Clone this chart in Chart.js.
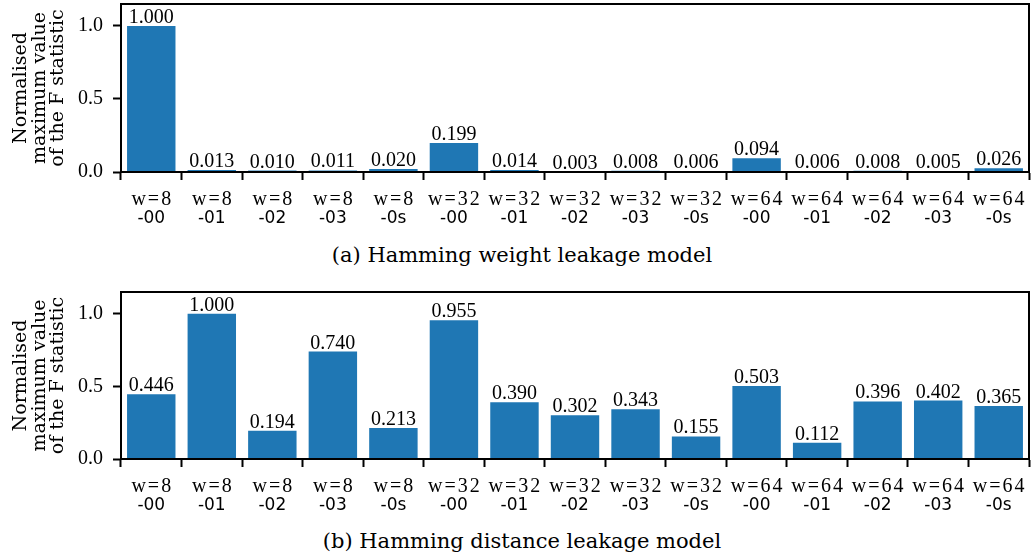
<!DOCTYPE html>
<html>
<head>
<meta charset="utf-8">
<script src="https://cdn.jsdelivr.net/npm/chart.js@4"></script>
<style>
  body { margin: 0; background: #fff; }
  #wrap { position: relative; width: 1031px; height: 559px; }
  canvas { position: absolute; left: 0; }
  .cap { position: absolute; left: 12px; width: 1020px; text-align: center;
         font: 21px "DejaVu Serif"; line-height: 24px; color: #000; }
</style>
</head>
<body>
<div id="wrap">
  <canvas id="c1" width="1031" height="232" style="top:0"></canvas>
  <div class="cap" style="top:243px">(a) Hamming weight leakage model</div>
  <canvas id="c2" width="1031" height="232" style="top:288px"></canvas>
  <div class="cap" style="top:529px">(b) Hamming distance leakage model</div>
</div>
<script>
// categories: first line / second line of each tick label
const widths = ["w=8", "w=8", "w=8", "w=8", "w=8",
                "w=32", "w=32", "w=32", "w=32", "w=32",
                "w=64", "w=64", "w=64", "w=64", "w=64"];
const variants = ["-00", "-01", "-02", "-03", "-0s",
                  "-00", "-01", "-02", "-03", "-0s",
                  "-00", "-01", "-02", "-03", "-0s"];
// normalised maximum F statistic
const weightValues = [1.000, 0.013, 0.010, 0.011, 0.020,
                      0.199, 0.014, 0.003, 0.008, 0.006,
                      0.094, 0.006, 0.008, 0.005, 0.026];
const distanceValues = [0.446, 1.000, 0.194, 0.740, 0.213,
                        0.955, 0.390, 0.302, 0.343, 0.155,
                        0.503, 0.112, 0.396, 0.402, 0.365];
const yTicks = [0.0, 0.5, 1.0];
const yTitle = ["Normalised", "maximum value", "of the F statistic"];

const serif = '"Liberation Serif"';

// labels on bars, box round the plot, two-font x labels, y title
const extras = {
  id: "extras",
  afterDatasetsDraw(chart) {
    const ctx = chart.ctx;
    const a = chart.chartArea;
    const vals = chart.data.datasets[0].data;
    ctx.save();
    ctx.fillStyle = "#000";
    ctx.textAlign = "center";
    ctx.textBaseline = "alphabetic";
    ctx.font = "20px " + serif;
    chart.getDatasetMeta(0).data.forEach((bar, i) => {
      ctx.fillText(vals[i].toFixed(3), bar.x, bar.y - 3);
    });

    ctx.strokeStyle = "#000";
    ctx.lineWidth = 2;
    ctx.strokeRect(a.left, a.top, a.right - a.left, a.bottom - a.top);

    const xs = chart.scales.x;
    widths.forEach((w, i) => {
      const x = xs.getPixelForTick(i);
      ctx.font = "20px " + serif;
      ctx.letterSpacing = "2px";
      ctx.fillText(w, x + 1, a.bottom + 33);
      ctx.letterSpacing = "0px";
      ctx.font = '17px "DejaVu Sans"';
      ctx.fillText(variants[i], x, a.bottom + 50.5);
    });

    ctx.font = '19px "DejaVu Serif"';
    const cy = (a.top + a.bottom) / 2;
    const bases = [26, 45, 63];
    yTitle.forEach((t, i) => {
      ctx.save();
      ctx.translate(bases[i], cy);
      ctx.rotate(-Math.PI / 2);
      ctx.fillText(t, 0, 0);
      ctx.restore();
    });
    ctx.restore();
  }
};

function makeChart(id, values, yMax, xHeight) {
  return new Chart(document.getElementById(id), {
    type: "bar",
    data: {
      labels: widths.map((w, i) => w + variants[i]),
      datasets: [{
        data: values,
        backgroundColor: "#1f77b4",
        barPercentage: 0.8,
        categoryPercentage: 1.0
      }]
    },
    options: {
      responsive: false,
      animation: false,
      layout: { padding: { top: 4, right: 2, left: 0, bottom: 0 } },
      plugins: { legend: { display: false }, tooltip: { enabled: false } },
      scales: {
        x: {
          ticks: { display: false },
          grid: { drawOnChartArea: false, drawTicks: true, tickLength: 8,
                  tickWidth: 2, tickColor: "#000" },
          border: { display: true, color: "#000", width: 2 },
          afterFit(s) {
            s.height = xHeight;
            s.paddingLeft = 0; s.paddingRight = 0;
          }
        },
        y: {
          min: 0,
          max: yMax,
          afterBuildTicks(s) { s.ticks = yTicks.map(v => ({ value: v })); },
          ticks: {
            color: "#000",
            padding: 10,
            font: { family: "Liberation Serif", size: 20 },
            callback: v => v.toFixed(1)
          },
          grid: { drawOnChartArea: false, drawTicks: true, tickLength: 8,
                  tickWidth: 2, tickColor: "#000" },
          border: { display: true, color: "#000", width: 2 },
          afterFit(s) {
            s.width = 121;
            s.paddingTop = 0; s.paddingBottom = 0;
          }
        }
      }
    },
    plugins: [extras]
  });
}

makeChart("c1", weightValues, 1.15, 60);
makeChart("c2", distanceValues, 1.15, 61);
</script>
</body>
</html>
